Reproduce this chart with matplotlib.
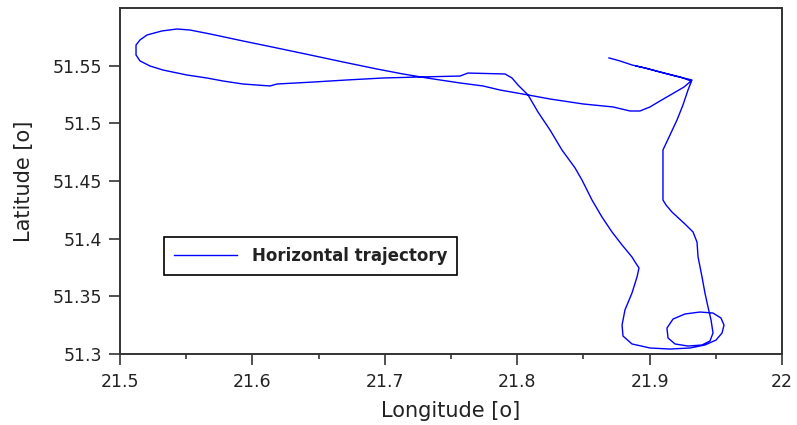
import matplotlib
matplotlib.use('Agg')
import matplotlib.pyplot as plt

# flight track
longitude = [
    21.8693, 21.8776, 21.8867, 21.8965, 21.9079, 21.9192, 21.9320,
    21.9290, 21.9252, 21.9207, 21.9154, 21.9101, 21.9101, 21.9101,
    21.9124, 21.9169, 21.9267, 21.9328, 21.9358, 21.9366, 21.9396,
    21.9418, 21.9441, 21.9464, 21.9479, 21.9456, 21.9396, 21.9290,
    21.9192, 21.9139, 21.9131, 21.9177, 21.9267, 21.9381, 21.9479,
    21.9539, 21.9562, 21.9547, 21.9502, 21.9418, 21.9305, 21.9154,
    21.9003, 21.8867, 21.8799, 21.8792, 21.8814, 21.8867, 21.8905,
    21.8920, 21.8890, 21.8867, 21.8792, 21.8716, 21.8640, 21.8565,
    21.8489, 21.8437, 21.8338, 21.8248, 21.8157, 21.8082, 21.8006,
    21.7961, 21.7908, 21.7628, 21.7568, 21.7266, 21.6986, 21.6715,
    21.6458, 21.6186, 21.6133, 21.5929, 21.5778, 21.5657, 21.5506,
    21.5325, 21.5227, 21.5151, 21.5121, 21.5121, 21.5151, 21.5204,
    21.5317, 21.5431, 21.5529, 21.5680, 21.5929, 21.6186, 21.6435,
    21.6684, 21.6941, 21.7137, 21.7319, 21.7568, 21.7742, 21.7870,
    21.8082, 21.8248, 21.8497, 21.8724, 21.8852, 21.8927, 21.9003,
    21.9079, 21.9169, 21.9260, 21.9313, 21.9230, 21.9079, 21.8965,
    21.8897,
]
latitude = [
    51.5567, 51.5541, 51.5506, 51.5480, 51.5445, 51.5410, 51.5376,
    51.5289, 51.5159, 51.5029, 51.4899, 51.4769, 51.4552, 51.4335,
    51.4292, 51.4231, 51.4127, 51.4058, 51.3971, 51.3841, 51.3668,
    51.3529, 51.3408, 51.3295, 51.3182, 51.3113, 51.3078, 51.3069,
    51.3087, 51.3139, 51.3225, 51.3303, 51.3347, 51.3364, 51.3355,
    51.3312, 51.3251, 51.3182, 51.3121, 51.3078, 51.3052, 51.3043,
    51.3052, 51.3087, 51.3156, 51.3251, 51.3382, 51.3529, 51.3668,
    51.3746, 51.3798, 51.3841, 51.3945, 51.4058, 51.4188, 51.4335,
    51.4509, 51.4613, 51.4769, 51.4942, 51.5098, 51.5246, 51.5332,
    51.5393, 51.5428, 51.5436, 51.5410, 51.5402, 51.5393, 51.5376,
    51.5358, 51.5341, 51.5324, 51.5341, 51.5367, 51.5393, 51.5419,
    51.5462, 51.5497, 51.5541, 51.5593, 51.5679, 51.5723, 51.5766,
    51.5801, 51.5818, 51.5809, 51.5775, 51.5714, 51.5653, 51.5593,
    51.5532, 51.5471, 51.5428, 51.5393, 51.5350, 51.5324, 51.5289,
    51.5246, 51.5211, 51.5168, 51.5142, 51.5107, 51.5107, 51.5142,
    51.5194, 51.5254, 51.5315, 51.5367, 51.5402, 51.5445, 51.5480,
    51.5497,
]

x_ticks = [21.5, 21.6, 21.7, 21.8, 21.9, 22.0]
x_tick_labels = ['21.5', '21.6', '21.7', '21.8', '21.9', '22']
x_minor = [21.55, 21.65, 21.75, 21.85, 21.95]
y_ticks = [51.3, 51.35, 51.4, 51.45, 51.5, 51.55]
y_tick_labels = ['51.3', '51.35', '51.4', '51.45', '51.5', '51.55']

fig = plt.figure(figsize=(7.97, 4.25), dpi=100)
ax = fig.add_axes([120 / 797, 1 - 354 / 425, 662 / 797, 346 / 425])

ax.plot(longitude, latitude, color='#0000ff', linewidth=1.0, label='Horizontal trajectory')

ax.set_xlim(21.5, 22.0)
ax.set_ylim(51.3, 51.6)
ax.set_xticks(x_ticks)
ax.set_xticklabels(x_tick_labels)
ax.set_xticks(x_minor, minor=True)
ax.set_yticks(y_ticks)
ax.set_yticklabels(y_tick_labels)

ax.tick_params(which='major', direction='out', length=8, width=1.1, color='#222222',
               labelsize=12.5, labelcolor='#222222', pad=5)
ax.tick_params(axis='x', which='major', pad=6)
ax.tick_params(which='minor', direction='out', length=3.5, width=1.1, color='#222222')
for side in ['left', 'bottom', 'top', 'right']:
    ax.spines[side].set_color('#333333')
    ax.spines[side].set_linewidth(1.4)

ax.set_xlabel('Longitude [o]', fontsize=15, color='#222222', labelpad=7)
ax.set_ylabel('Latitude [o]', fontsize=15, color='#222222', labelpad=13)

leg = ax.legend(loc='upper left', bbox_to_anchor=(0.0665, 0.338), borderaxespad=0,
                fancybox=False, edgecolor='black', framealpha=1,
                handlelength=3.8, handletextpad=0.85, borderpad=0.6,
                prop={'size': 12, 'weight': 'bold'})
leg.get_frame().set_linewidth(1.2)
for t in leg.get_texts():
    t.set_color('#222222')

fig.savefig('out.png', dpi=100)
